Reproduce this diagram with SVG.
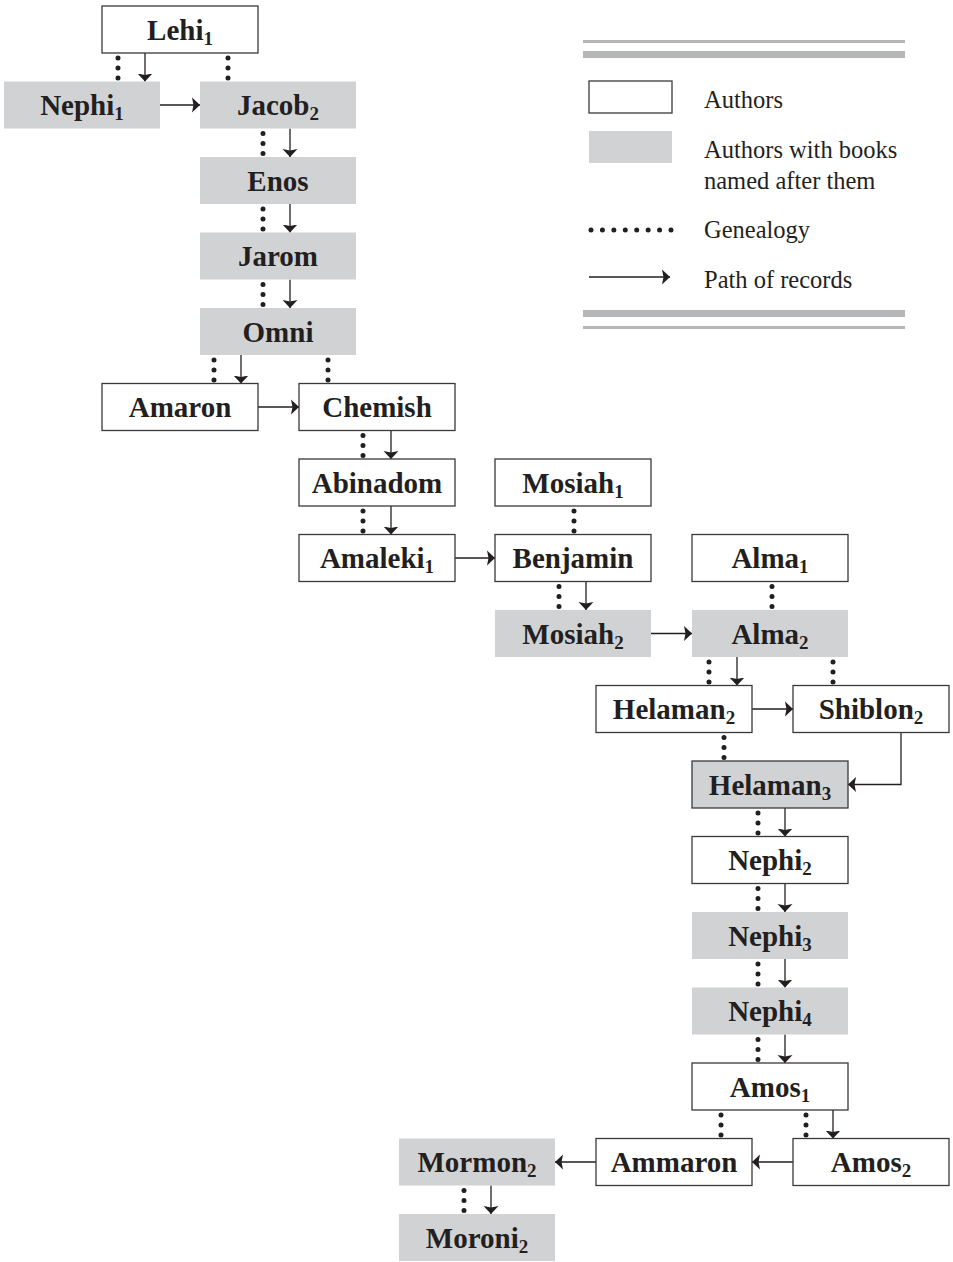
<svg xmlns="http://www.w3.org/2000/svg" width="953" height="1262" viewBox="0 0 953 1262">
<style>
  .box { fill: #ffffff; stroke: #3a3a3a; stroke-width: 1.3; }
  .gray { fill: #d1d2d4; stroke: none; }
  .grayb { fill: #d1d2d4; stroke: #3a3a3a; stroke-width: 1.3; }
  .lbl { font-family: "Liberation Serif", "Times New Roman", serif; font-weight: bold; font-size: 29px; fill: #231f20; text-anchor: middle; }
  .sub { font-size: 19px; }
  .leg { font-family: "Liberation Serif", "Times New Roman", serif; font-size: 24.5px; fill: #231f20; }
  .rec { fill: none; stroke: #231f20; stroke-width: 1.3; marker-end: url(#arr); }
  .gen { fill: none; stroke: #231f20; stroke-width: 5; stroke-linecap: round; stroke-dasharray: 0 10; }
  .rule { fill: #b5b6b8; }
</style>
<defs>
  <marker id="arr" viewBox="0 0 8 16" markerWidth="8" markerHeight="16" refX="8" refY="8" orient="auto" markerUnits="userSpaceOnUse">
    <path d="M8,8 L0,0.5 L1.5,8 L0,15.5 Z" fill="#231f20"/>
  </marker>
</defs>
<rect width="953" height="1262" fill="#ffffff"/>

<g id="legend">
  <rect class="rule" x="583" y="40" width="322" height="3"/>
  <rect class="rule" x="583" y="51" width="322" height="7"/>
  <rect class="box" x="589" y="81" width="83" height="32"/>
  <text class="leg" x="704" y="108">Authors</text>
  <rect class="gray" x="589" y="131" width="83" height="32"/>
  <text class="leg" x="704" y="158">Authors with books</text>
  <text class="leg" x="704" y="189">named after them</text>
  <line class="gen" x1="591" y1="230" x2="672" y2="230" style="stroke-width:5;stroke-dasharray:0 11.43"/>
  <text class="leg" x="704" y="238">Genealogy</text>
  <line class="rec" x1="589" y1="277" x2="670" y2="277"/>
  <text class="leg" x="704" y="288">Path of records</text>
  <rect class="rule" x="583" y="310" width="322" height="7"/>
  <rect class="rule" x="583" y="326" width="322" height="3"/>
</g>

<g id="connectors">
  <!-- Lehi -> Nephi1, Jacob2 -->
  <line class="gen" x1="118" y1="58" x2="118" y2="78.5"/>
  <line class="rec" x1="145" y1="53" x2="145" y2="81.5"/>
  <line class="gen" x1="228" y1="58" x2="228" y2="78.5"/>
  <line class="rec" x1="160" y1="105" x2="200" y2="105"/>
  <!-- Jacob -> Enos -> Jarom -> Omni -->
  <line class="gen" x1="263" y1="133.5" x2="263" y2="154"/>
  <line class="rec" x1="290" y1="128.5" x2="290" y2="157"/>
  <line class="gen" x1="263" y1="209" x2="263" y2="229.5"/>
  <line class="rec" x1="290" y1="204" x2="290" y2="232.5"/>
  <line class="gen" x1="263" y1="284.5" x2="263" y2="305"/>
  <line class="rec" x1="290" y1="279.5" x2="290" y2="308"/>
  <!-- Omni -> Amaron, Chemish -->
  <line class="gen" x1="214" y1="360" x2="214" y2="380.5"/>
  <line class="rec" x1="241" y1="355" x2="241" y2="383.5"/>
  <line class="gen" x1="328" y1="360" x2="328" y2="380.5"/>
  <line class="rec" x1="258" y1="407" x2="299" y2="407"/>
  <!-- Chemish -> Abinadom -> Amaleki -->
  <line class="gen" x1="363" y1="435.5" x2="363" y2="456"/>
  <line class="rec" x1="391" y1="430.5" x2="391" y2="459"/>
  <line class="gen" x1="363" y1="511" x2="363" y2="531.5"/>
  <line class="rec" x1="391" y1="506" x2="391" y2="534.5"/>
  <line class="rec" x1="455" y1="558" x2="495" y2="558"/>
  <!-- Mosiah1 -> Benjamin -> Mosiah2 -->
  <line class="gen" x1="574" y1="511" x2="574" y2="531.5"/>
  <line class="gen" x1="559" y1="586.5" x2="559" y2="607"/>
  <line class="rec" x1="586" y1="581.5" x2="586" y2="610"/>
  <line class="rec" x1="651" y1="633.5" x2="692" y2="633.5"/>
  <!-- Alma1 -> Alma2 -->
  <line class="gen" x1="772" y1="586.5" x2="772" y2="607"/>
  <!-- Alma2 -> Helaman2, Shiblon2 -->
  <line class="gen" x1="709" y1="662" x2="709" y2="682.5"/>
  <line class="rec" x1="737" y1="657" x2="737" y2="685.5"/>
  <line class="gen" x1="833" y1="662" x2="833" y2="682.5"/>
  <line class="rec" x1="752" y1="709" x2="793" y2="709"/>
  <!-- Helaman2 -> Helaman3 ; Shiblon2 -> Helaman3 -->
  <line class="gen" x1="724" y1="737.5" x2="724" y2="758"/>
  <polyline class="rec" points="901,732.5 901,784.5 848,784.5"/>
  <!-- Helaman3 -> Nephi2 -> Nephi3 -> Nephi4 -> Amos1 -->
  <line class="gen" x1="758" y1="813" x2="758" y2="833.5"/>
  <line class="rec" x1="785" y1="808" x2="785" y2="836.5"/>
  <line class="gen" x1="758" y1="888.5" x2="758" y2="909"/>
  <line class="rec" x1="785" y1="883.5" x2="785" y2="912"/>
  <line class="gen" x1="758" y1="964" x2="758" y2="984.5"/>
  <line class="rec" x1="785" y1="959" x2="785" y2="987.5"/>
  <line class="gen" x1="758" y1="1039.5" x2="758" y2="1060"/>
  <line class="rec" x1="785" y1="1034.5" x2="785" y2="1063"/>
  <!-- Amos1 -> Ammaron, Amos2 -->
  <line class="gen" x1="721" y1="1115" x2="721" y2="1135.5"/>
  <line class="gen" x1="806" y1="1115" x2="806" y2="1135.5"/>
  <line class="rec" x1="833" y1="1110" x2="833" y2="1138.5"/>
  <line class="rec" x1="793" y1="1162" x2="752" y2="1162"/>
  <line class="rec" x1="596" y1="1162" x2="555" y2="1162"/>
  <!-- Mormon2 -> Moroni2 -->
  <line class="gen" x1="464" y1="1190.5" x2="464" y2="1211"/>
  <line class="rec" x1="491" y1="1185.5" x2="491" y2="1214"/>
</g>

<g id="lehi1"><rect class="box" x="102" y="6" width="156" height="47"/><text class="lbl" x="180" y="39.5">Lehi<tspan class="sub" dy="5">1</tspan></text></g>
<g id="nephi1"><rect class="gray" x="4" y="81.5" width="156" height="47"/><text class="lbl" x="82" y="115">Nephi<tspan class="sub" dy="5">1</tspan></text></g>
<g id="jacob2"><rect class="gray" x="200" y="81.5" width="156" height="47"/><text class="lbl" x="278" y="115">Jacob<tspan class="sub" dy="5">2</tspan></text></g>
<g id="enos"><rect class="gray" x="200" y="157" width="156" height="47"/><text class="lbl" x="278" y="190.5">Enos</text></g>
<g id="jarom"><rect class="gray" x="200" y="232.5" width="156" height="47"/><text class="lbl" x="278" y="266">Jarom</text></g>
<g id="omni"><rect class="gray" x="200" y="308" width="156" height="47"/><text class="lbl" x="278" y="341.5">Omni</text></g>
<g id="amaron"><rect class="box" x="102" y="383.5" width="156" height="47"/><text class="lbl" x="180" y="417">Amaron</text></g>
<g id="chemish"><rect class="box" x="299" y="383.5" width="156" height="47"/><text class="lbl" x="377" y="417">Chemish</text></g>
<g id="abinadom"><rect class="box" x="299" y="459" width="156" height="47"/><text class="lbl" x="377" y="492.5">Abinadom</text></g>
<g id="mosiah1"><rect class="box" x="495" y="459" width="156" height="47"/><text class="lbl" x="573" y="492.5">Mosiah<tspan class="sub" dy="5">1</tspan></text></g>
<g id="amaleki1"><rect class="box" x="299" y="534.5" width="156" height="47"/><text class="lbl" x="377" y="568">Amaleki<tspan class="sub" dy="5">1</tspan></text></g>
<g id="benjamin"><rect class="box" x="495" y="534.5" width="156" height="47"/><text class="lbl" x="573" y="568">Benjamin</text></g>
<g id="alma1"><rect class="box" x="692" y="534.5" width="156" height="47"/><text class="lbl" x="770" y="568">Alma<tspan class="sub" dy="5">1</tspan></text></g>
<g id="mosiah2"><rect class="gray" x="495" y="610" width="156" height="47"/><text class="lbl" x="573" y="643.5">Mosiah<tspan class="sub" dy="5">2</tspan></text></g>
<g id="alma2"><rect class="gray" x="692" y="610" width="156" height="47"/><text class="lbl" x="770" y="643.5">Alma<tspan class="sub" dy="5">2</tspan></text></g>
<g id="helaman2"><rect class="box" x="596" y="685.5" width="156" height="47"/><text class="lbl" x="674" y="719">Helaman<tspan class="sub" dy="5">2</tspan></text></g>
<g id="shiblon2"><rect class="box" x="793" y="685.5" width="156" height="47"/><text class="lbl" x="871" y="719">Shiblon<tspan class="sub" dy="5">2</tspan></text></g>
<g id="helaman3"><rect class="grayb" x="692" y="761" width="156" height="47"/><text class="lbl" x="770" y="794.5">Helaman<tspan class="sub" dy="5">3</tspan></text></g>
<g id="nephi2"><rect class="box" x="692" y="836.5" width="156" height="47"/><text class="lbl" x="770" y="870">Nephi<tspan class="sub" dy="5">2</tspan></text></g>
<g id="nephi3"><rect class="gray" x="692" y="912" width="156" height="47"/><text class="lbl" x="770" y="945.5">Nephi<tspan class="sub" dy="5">3</tspan></text></g>
<g id="nephi4"><rect class="gray" x="692" y="987.5" width="156" height="47"/><text class="lbl" x="770" y="1021">Nephi<tspan class="sub" dy="5">4</tspan></text></g>
<g id="amos1"><rect class="box" x="692" y="1063" width="156" height="47"/><text class="lbl" x="770" y="1096.5">Amos<tspan class="sub" dy="5">1</tspan></text></g>
<g id="ammaron"><rect class="box" x="596" y="1138.5" width="156" height="47"/><text class="lbl" x="674" y="1172">Ammaron</text></g>
<g id="amos2"><rect class="box" x="793" y="1138.5" width="156" height="47"/><text class="lbl" x="871" y="1172">Amos<tspan class="sub" dy="5">2</tspan></text></g>
<g id="mormon2"><rect class="gray" x="399" y="1138.5" width="156" height="47"/><text class="lbl" x="477" y="1172">Mormon<tspan class="sub" dy="5">2</tspan></text></g>
<g id="moroni2"><rect class="gray" x="399" y="1214" width="156" height="47"/><text class="lbl" x="477" y="1247.5">Moroni<tspan class="sub" dy="5">2</tspan></text></g>
</svg>
